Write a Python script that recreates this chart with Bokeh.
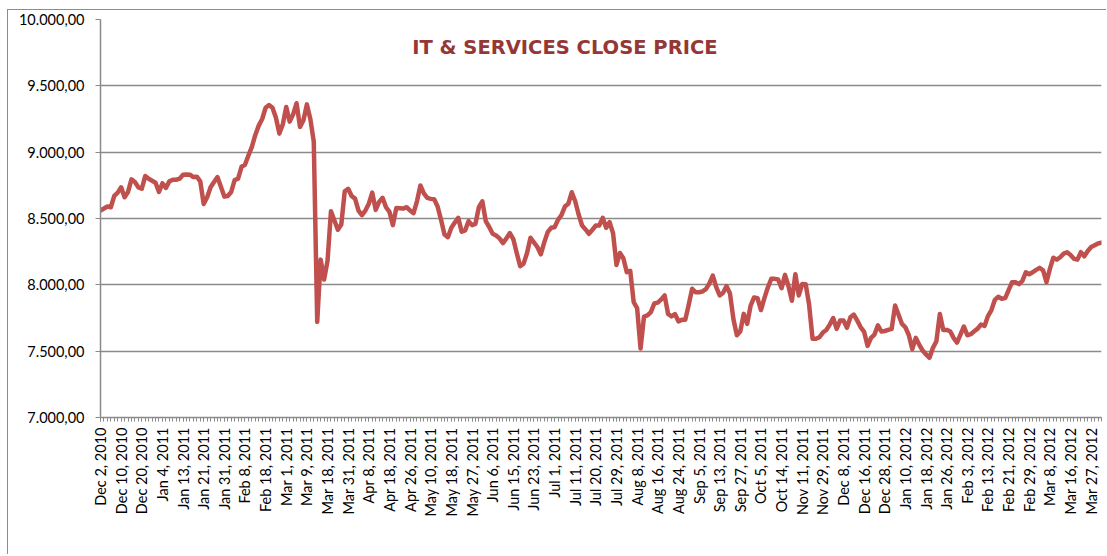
from bokeh.plotting import figure
from bokeh.models import Range1d, FixedTicker, Label
from bokeh.embed import file_html
from bokeh.resources import INLINE

title_text = "IT & SERVICES CLOSE PRICE"

tick_labels = [
    "Dec 2, 2010", "Dec 10, 2010", "Dec 20, 2010", "Jan 4, 2011", "Jan 13, 2011",
    "Jan 21, 2011", "Jan 31, 2011", "Feb 8, 2011", "Feb 18, 2011", "Mar 1, 2011",
    "Mar 9, 2011", "Mar 18, 2011", "Mar 31, 2011", "Apr 8, 2011", "Apr 18, 2011",
    "Apr 26, 2011", "May 10, 2011", "May 18, 2011", "May 27, 2011", "Jun 6, 2011",
    "Jun 15, 2011", "Jun 23, 2011", "Jul 1, 2011", "Jul 11, 2011", "Jul 20, 2011",
    "Jul 29, 2011", "Aug 8, 2011", "Aug 16, 2011", "Aug 24, 2011", "Sep 5, 2011",
    "Sep 13, 2011", "Sep 27, 2011", "Oct 5, 2011", "Oct 14, 2011", "Nov 11, 2011",
    "Nov 29, 2011", "Dec 8, 2011", "Dec 16, 2011", "Dec 28, 2011", "Jan 10, 2012",
    "Jan 18, 2012", "Jan 26, 2012", "Feb 3, 2012", "Feb 13, 2012", "Feb 21, 2012",
    "Feb 29, 2012", "Mar 8, 2012", "Mar 16, 2012", "Mar 27, 2012",
]
label_step = 6

close_price = [
    8560, 8575, 8590, 8585, 8670, 8695, 8735, 8660, 8700, 8795,
    8775, 8735, 8724, 8820, 8800, 8785, 8770, 8700, 8765, 8730,
    8780, 8792, 8792, 8800, 8830, 8832, 8830, 8812, 8815, 8780,
    8610, 8660, 8735, 8775, 8812, 8740, 8665, 8670, 8700, 8790,
    8800, 8890, 8905, 8975, 9040, 9130, 9200, 9250, 9335, 9355,
    9335, 9260, 9140, 9210, 9340, 9230, 9285, 9369, 9190, 9240,
    9360, 9250, 9080, 7720, 8190, 8040, 8180, 8555, 8485, 8415,
    8455, 8705, 8724, 8670, 8650, 8560, 8525, 8560, 8611, 8695,
    8565, 8625, 8656, 8585, 8550, 8450, 8580, 8578, 8575, 8585,
    8560, 8540, 8630, 8749, 8690, 8655, 8648, 8645, 8590, 8490,
    8380, 8359, 8430, 8470, 8505, 8400, 8410, 8480, 8450, 8460,
    8585, 8630, 8480, 8436, 8385, 8372, 8350, 8315, 8350, 8390,
    8345, 8240, 8140, 8160, 8240, 8355, 8320, 8285, 8230, 8320,
    8397, 8430, 8434, 8490, 8525, 8590, 8611, 8698, 8630, 8530,
    8447, 8418, 8385, 8415, 8447, 8447, 8505, 8430, 8472, 8390,
    8150, 8240, 8200, 8095, 8105, 7870, 7825, 7520, 7760, 7769,
    7794, 7860, 7866, 7890, 7920, 7780, 7762, 7780, 7725, 7736,
    7736, 7850, 7970, 7944, 7944, 7950, 7968, 8010, 8070, 7982,
    7920, 7940, 7990, 7935, 7740, 7620, 7650, 7781, 7706, 7844,
    7905, 7900, 7810, 7900, 7980, 8045, 8045, 8040, 7975, 8075,
    7990, 7880, 8080, 7920, 8007, 8005, 7850, 7593, 7593, 7605,
    7640, 7660, 7700, 7750, 7668, 7731, 7731, 7676, 7755, 7776,
    7730, 7680, 7645, 7540, 7600, 7625, 7695, 7648, 7652, 7660,
    7668, 7844, 7775, 7705, 7680, 7620, 7515, 7600, 7550, 7505,
    7475, 7450, 7525, 7575, 7780, 7660, 7660, 7650, 7600, 7565,
    7625, 7686, 7620, 7628, 7650, 7670, 7701, 7690, 7765, 7810,
    7887, 7910, 7895, 7900, 7960, 8020, 8020, 8005, 8030, 8095,
    8080, 8095, 8113, 8128, 8110, 8020, 8120, 8204, 8190, 8208,
    8235, 8246, 8225, 8196, 8190, 8246, 8215, 8255, 8285, 8298,
    8312, 8318,
]

y_ticks = [7000, 7500, 8000, 8500, 9000, 9500, 10000]
y_tick_labels = ["7.000,00", "7.500,00", "8.000,00", "8.500,00", "9.000,00", "9.500,00", "10.000,00"]

FONT = "Lato"
GRID = "#8a8a8a"

idx = list(range(len(close_price)))
label_idx = [i * label_step for i in range(len(tick_labels))]

p = figure(
    width=1099, height=545,
    output_backend="svg", toolbar_location=None,
    x_range=Range1d(0, len(close_price) - 1),
    y_range=Range1d(7000, 10000),
    min_border_left=92, min_border_right=6, min_border_top=9, min_border_bottom=138,
)
p.styles = {"border-left": "1px solid #8c8c8c", "border-top": "1px solid #8c8c8c",
            "margin-left": "7px", "margin-top": "9px"}
p.outline_line_color = None
p.background_fill_color = "white"
p.border_fill_color = "white"

p.line(idx, close_price, line_color="#C0504D", line_width=4.5, line_join="round", line_cap="round")

# x axis
xa = p.xaxis[0]
xa.ticker = FixedTicker(ticks=label_idx, minor_ticks=idx)
xa.major_label_overrides = {i: t for i, t in zip(label_idx, tick_labels)}
xa.major_label_orientation = 1.5707963267948966
xa.major_label_text_font = FONT
xa.major_label_text_font_size = "14.5px"
xa.major_label_text_color = "black"
xa.major_label_standoff = 6
xa.axis_line_color = GRID
xa.axis_line_width = 1.5
xa.major_tick_line_color = GRID
xa.minor_tick_line_color = GRID
xa.major_tick_in = 0
xa.major_tick_out = 4
xa.minor_tick_in = 0
xa.minor_tick_out = 4

# y axis
ya = p.yaxis[0]
ya.ticker = FixedTicker(ticks=y_ticks)
ya.major_label_overrides = {v: t for v, t in zip(y_ticks, y_tick_labels)}
ya.major_label_text_font = FONT
ya.major_label_text_font_size = "14.5px"
ya.major_label_text_color = "black"
ya.major_label_standoff = 11
ya.axis_line_color = GRID
ya.axis_line_width = 1.5
ya.major_tick_line_color = GRID
ya.major_tick_in = 0
ya.major_tick_out = 5
ya.minor_tick_line_color = None

p.xgrid.grid_line_color = None
p.ygrid.grid_line_color = GRID
p.ygrid.grid_line_width = 1.5

p.add_layout(Label(
    x=135, y=9790, text=title_text,
    text_font="DejaVu Sans", text_font_style="bold", text_font_size="19.5px",
    text_color="#953735", text_align="center", text_baseline="middle",
))

open("out.html", "w").write(file_html(p, INLINE))
